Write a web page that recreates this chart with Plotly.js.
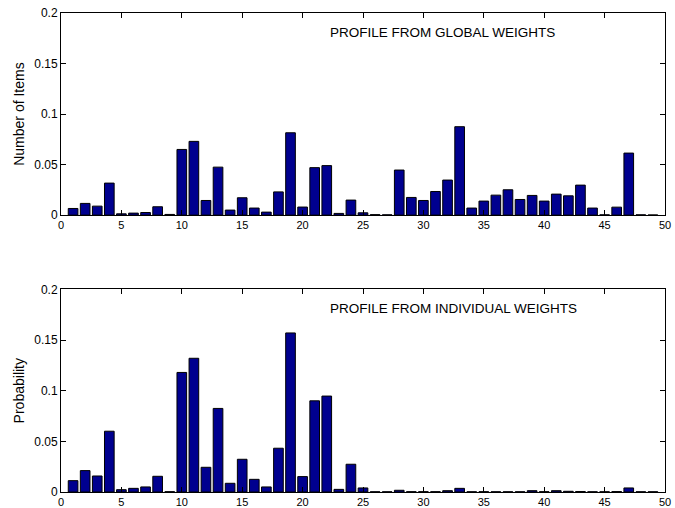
<!DOCTYPE html>
<html>
<head>
<meta charset="utf-8">
<script src="https://cdn.plot.ly/plotly-3.0.1.min.js"></script>
<style>html,body{margin:0;padding:0;background:#fff;}#chart{width:675px;height:508px;}</style>
</head>
<body>
<div id="chart"></div>
<script>
var items = [1,2,3,4,5,6,7,8,9,10,11,12,13,14,15,16,17,18,19,20,21,22,23,24,25,26,27,28,29,30,31,32,33,34,35,36,37,38,39,40,41,42,43,44,45,46,47,48,49];
var globalWeights = [0.0066,0.0116,0.0089,0.0317,0.0013,0.0020,0.0026,0.0083,0.0007,0.0650,
  0.0730,0.0145,0.0475,0.0050,0.0172,0.0070,0.0030,0.0230,0.0815,0.0080,
  0.0470,0.0490,0.0017,0.0149,0.0023,0.0005,0.0003,0.0446,0.0175,0.0145,
  0.0234,0.0347,0.0875,0.0070,0.0139,0.0198,0.0251,0.0155,0.0195,0.0139,
  0.0208,0.0191,0.0297,0.0070,0.0003,0.0079,0.0614,0.0003,0.0002];
var individualWeights = [0.0112,0.0211,0.0158,0.0600,0.0023,0.0036,0.0050,0.0155,0.0003,0.1180,
  0.1320,0.0244,0.0825,0.0086,0.0323,0.0125,0.0050,0.0432,0.1570,0.0152,
  0.0900,0.0947,0.0026,0.0274,0.0040,0.0002,0.0002,0.0017,0.0003,0.0003,
  0.0003,0.0013,0.0036,0.0002,0.0003,0.0002,0.0002,0.0002,0.0013,0.0003,
  0.0013,0.0007,0.0005,0.0002,0.0002,0.0004,0.0040,0.0002,0.0002];
var topTitle = "PROFILE FROM GLOBAL WEIGHTS";
var bottomTitle = "PROFILE FROM INDIVIDUAL WEIGHTS";
var topYLabel = "Number of Items";
var bottomYLabel = "Probability";
var xTicks = [0,5,10,15,20,25,30,35,40,45,50];
var yTicks = [0,0.05,0.1,0.15,0.2];
var yTickText = ['0','0.05','0.1','0.15','0.2'];

var barStyle = {color: '#00008f', line: {color: '#000000', width: 1}};
var traces = [
  {type: 'bar', x: items, y: globalWeights, width: 0.8, marker: barStyle, xaxis: 'x', yaxis: 'y', hoverinfo: 'x+y'},
  {type: 'bar', x: items, y: individualWeights, width: 0.8, marker: barStyle, xaxis: 'x2', yaxis: 'y2', hoverinfo: 'x+y'}
];
var fam = 'Liberation Sans, Arial, sans-serif';
var font = {family: fam, size: 12, color: '#000'};
var xfont = {family: fam, size: 11, color: '#000'};
function xax(anchor) {
  return {range: [0, 50], tickvals: xTicks, ticktext: xTicks.map(String), ticks: 'inside', ticklen: 5, tickcolor: '#000',
    showline: true, linecolor: '#000', linewidth: 1, mirror: 'ticks', showgrid: false, zeroline: false,
    anchor: anchor, tickfont: xfont, fixedrange: true};
}
function yax(dom, anchor, label) {
  return {domain: dom, range: [0, 0.2], tickvals: yTicks, ticktext: yTickText, ticks: 'inside', ticklen: 5, tickcolor: '#000',
    showline: true, linecolor: '#000', linewidth: 1, mirror: 'ticks', showgrid: false, zeroline: false,
    anchor: anchor, tickfont: font, title: {text: label, font: {family: fam, size: 14, color: '#000'}, standoff: 6}, fixedrange: true};
}
var layout = {
  width: 675, height: 508,
  margin: {l: 61, r: 10, t: 13, b: 16},
  paper_bgcolor: '#fff', plot_bgcolor: '#fff',
  showlegend: false, bargap: 0,
  font: font,
  xaxis: xax('y'),
  yaxis: yax([0.578, 1], 'x', topYLabel),
  xaxis2: xax('y2'),
  yaxis2: yax([0, 0.423], 'x2', bottomYLabel),
  annotations: [
    {text: topTitle, xref: 'x', yref: 'y', x: 22.1, y: 0.181, xanchor: 'left', yanchor: 'middle', showarrow: false, font: {family: fam, size: 13.5, color: '#000'}},
    {text: bottomTitle, xref: 'x2', yref: 'y2', x: 22.1, y: 0.181, xanchor: 'left', yanchor: 'middle', showarrow: false, font: {family: fam, size: 13.5, color: '#000'}}
  ]
};
Plotly.newPlot('chart', traces, layout, {displayModeBar: false, staticPlot: true});
</script>
</body>
</html>
